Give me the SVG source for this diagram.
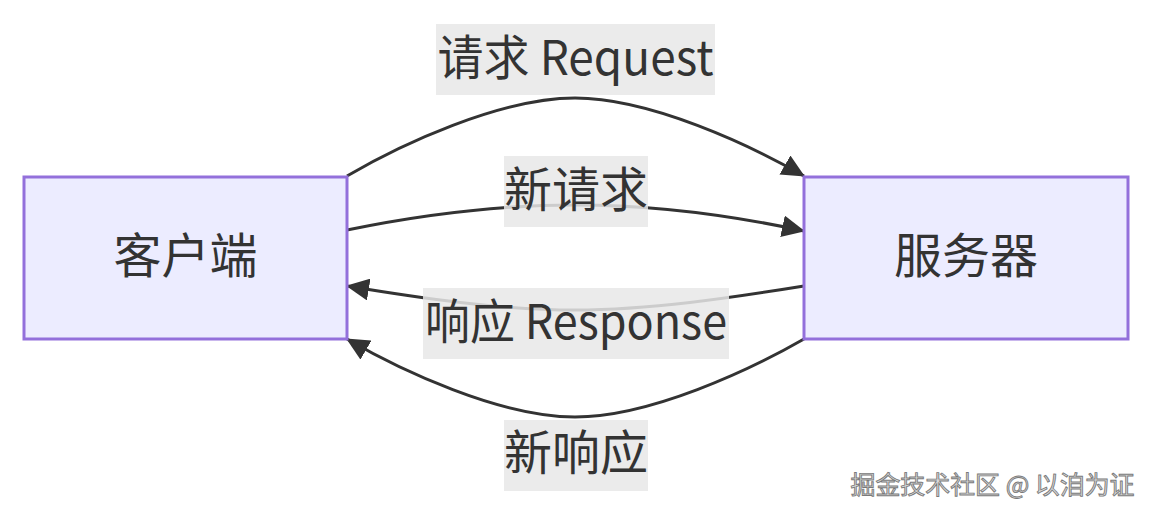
<svg xmlns="http://www.w3.org/2000/svg" width="1152" height="516" viewBox="0 0 1152 516">
<style>
.node rect{fill:#ECECFF;stroke:#9370DB;stroke-width:3}
.t{font-family:"Microsoft YaHei","Noto Sans CJK SC","Noto Sans",sans-serif;font-size:48px;fill:#333}
.edge{fill:none;stroke:#333;stroke-width:3}
.lbg{fill:rgba(232,232,232,0.85)}
.wm{font-family:"Noto Sans CJK SC",sans-serif;font-size:25px;fill:#dcdcdc;stroke:#7a7a7a;stroke-width:0.9}
</style>
<defs>
<marker id="arr" markerUnits="userSpaceOnUse" viewBox="0 0 23 22" refX="22" refY="11" markerWidth="23" markerHeight="22" orient="auto">
<path d="M0,0 L23,11 L0,22 z" fill="#333"/>
</marker>
</defs>
<rect width="1152" height="516" fill="#fff"/>
<g id="connectors">
<path class="edge" d="M347,176 C400,145 500,98 575,98 C650,98 750,145 804,176" marker-end="url(#arr)"/>
<path class="edge" d="M347,230 C420,215 500,205 575,205 C650,205 730,215 804,231" marker-end="url(#arr)"/>
<path class="edge" d="M804,286 C730,298 650,310 575,310 C500,310 420,298 347,286" marker-end="url(#arr)"/>
<path class="edge" d="M804,339 C750,370 650,417 575,417 C500,417 400,370 347,339" marker-end="url(#arr)"/>
</g>
<g id="edge-labels">
<g id="label-request"><rect class="lbg" x="436" y="24" width="279" height="71"/><text class="t" x="575.5" y="75" text-anchor="middle" textLength="276" lengthAdjust="spacingAndGlyphs">请求 Request</text></g>
<g id="label-newrequest"><rect class="lbg" x="504" y="156" width="144" height="71"/><text class="t" x="576" y="207" text-anchor="middle">新请求</text></g>
<g id="label-response"><rect class="lbg" x="423" y="288" width="306" height="71"/><text class="t" x="576" y="339" text-anchor="middle" textLength="302" lengthAdjust="spacingAndGlyphs">响应 Response</text></g>
<g id="label-newresponse"><rect class="lbg" x="504" y="420" width="144" height="71"/><text class="t" x="576" y="470" text-anchor="middle">新响应</text></g>
</g>
<g id="client" class="node"><rect x="24" y="177" width="323" height="162"/><text class="t" x="185.5" y="273" text-anchor="middle">客户端</text></g>
<g id="server" class="node"><rect x="804" y="177" width="324" height="162"/><text class="t" x="966" y="273" text-anchor="middle">服务器</text></g>
<text class="wm" x="992.5" y="494" text-anchor="middle" textLength="284" lengthAdjust="spacingAndGlyphs">掘金技术社区 @ 以洎为证</text>
</svg>
